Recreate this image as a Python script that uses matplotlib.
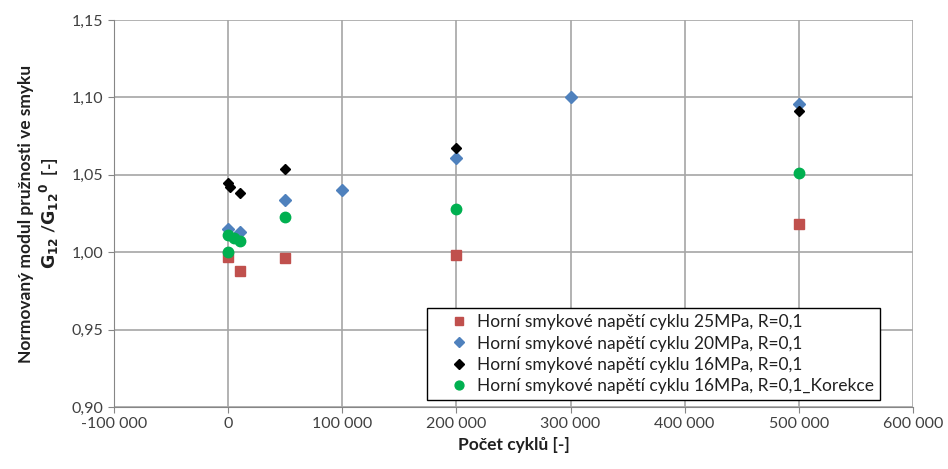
import matplotlib
matplotlib.use("Agg")
import matplotlib.pyplot as plt
from matplotlib.ticker import FuncFormatter, MultipleLocator

plt.rcParams['font.family'] = ['Lato', 'DejaVu Sans']

# cykly a normovaný modul pro jednotlivé zatěžovací hladiny
x_25 = [0, 10000, 50000, 200000, 500000]
g_25 = [0.997, 0.988, 0.996, 0.998, 1.018]

x_20 = [0, 10000, 50000, 100000, 200000, 300000, 500000]
g_20 = [1.015, 1.013, 1.034, 1.040, 1.061, 1.100, 1.096]

x_16 = [0, 2000, 10000, 50000, 200000, 500000]
g_16 = [1.045, 1.042, 1.038, 1.054, 1.067, 1.091]

x_16k = [0, 0, 5000, 10000, 50000, 200000, 500000]
g_16k = [1.000, 1.011, 1.009, 1.007, 1.023, 1.028, 1.051]

labels = ["Horní smykové napětí cyklu 25MPa, R=0,1",
          "Horní smykové napětí cyklu 20MPa, R=0,1",
          "Horní smykové napětí cyklu 16MPa, R=0,1",
          "Horní smykové napětí cyklu 16MPa, R=0,1_Korekce"]

fig = plt.figure(figsize=(9.48, 4.69), dpi=100)
ax = fig.add_axes([0.1203, 0.1322, 0.8427, 0.8252])

ax.plot(x_25, g_25, 's', color='#c0504d', ms=7, ls='none', label=labels[0], zorder=3)
ax.plot(x_20, g_20, 'D', color='#4f81bd', ms=6.5, ls='none', label=labels[1], zorder=3)
ax.plot(x_16, g_16, 'D', color='black', ms=5.5, ls='none', label=labels[2], zorder=4)
ax.plot(x_16k, g_16k, 'o', color='#00b050', ms=7.5, ls='none', label=labels[3], zorder=5)

ax.set_xlim(-100000, 600000)
ax.set_ylim(0.90, 1.15)
ax.xaxis.set_major_locator(MultipleLocator(100000))
ax.yaxis.set_major_locator(MultipleLocator(0.05))
ax.xaxis.set_major_formatter(FuncFormatter(lambda v, p: f"{int(round(v)):,}".replace(",", " ")))
ax.yaxis.set_major_formatter(FuncFormatter(lambda v, p: f"{v:.2f}".replace(".", ",")))

ax.grid(True, color='#a6a6a6', lw=1.2)
ax.set_axisbelow(True)
for s in ['top', 'right']:
    ax.spines[s].set_visible(False)
for s in ['left', 'bottom']:
    ax.spines[s].set_color('#868686')
ax.tick_params(colors='#868686', labelcolor='#404040', labelsize=11.5, length=4)

ax.set_xlabel("Počet cyklů [-]", fontsize=12.5, fontweight='bold', color='#202020')
ax.set_ylabel("Normovaný modul pružnosti ve smyku\n$\\mathbf{G_{12}}$ /$\\mathbf{G_{12}}^{\\mathbf{0}}$  [-]",
              fontsize=12.5, fontweight='bold', color='#202020', labelpad=8)

leg = ax.legend(loc='lower right', bbox_to_anchor=(0.9587, 0.018), fontsize=12.5,
                frameon=True, fancybox=False, edgecolor='black', handletextpad=-0.5,
                handlelength=3.0, borderpad=0.35, labelspacing=0.3, borderaxespad=0,
                markerscale=0.85)
leg.get_frame().set_linewidth(1.0)
leg.get_frame().set_alpha(1)
for t in leg.get_texts():
    t.set_color('#202020')

fig.savefig("out.png", dpi=100)
